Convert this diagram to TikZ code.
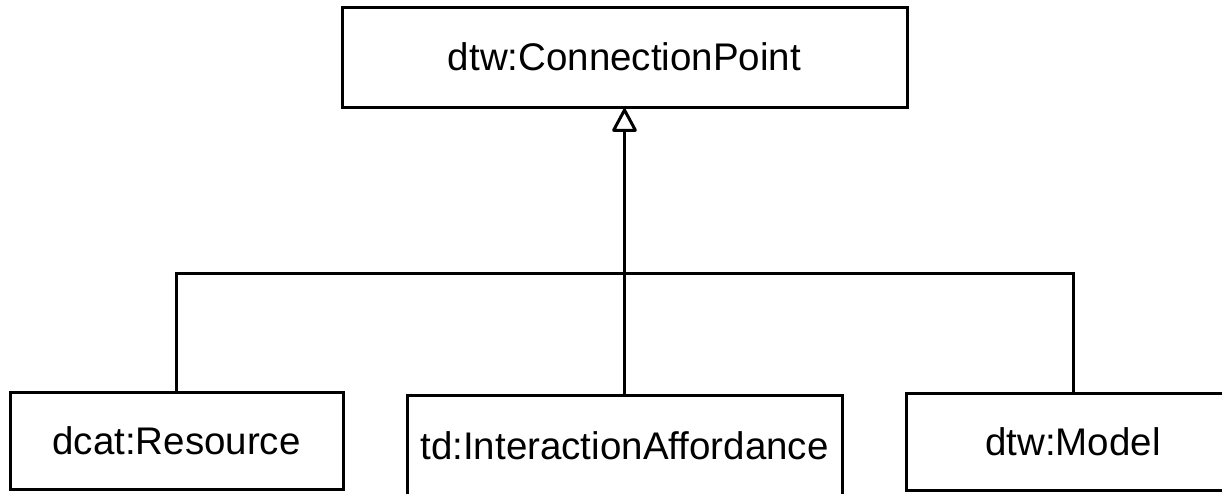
\documentclass[tikz,border=0pt]{standalone}
\usepackage{fontspec}
\setmainfont{Liberation Sans}
\usetikzlibrary{arrows.meta}

\begin{document}
\begin{tikzpicture}[
    x=1pt, y=-1pt,
    cls/.style={
        rectangle,
        draw=black,
        line width=3pt,
        inner sep=0pt,
        minimum height=97pt,
        font=\fontsize{38.5}{46}\selectfont
    },
    inherit/.style={line width=3pt, -{Triangle[length=25pt, width=26pt, fill=white, round]}},
    link/.style={line width=3pt}
]

\useasboundingbox (0,0) rectangle (1222,493);
\clip (0,0) rectangle (1222,493);

\node[cls, minimum width=565pt, minimum height=100pt] (cp) at (624.5,57) {dtw:ConnectionPoint};

\node[cls, minimum width=333pt] (res) at (176.5,440.5) {dcat:Resource};
\node[cls, minimum width=435pt, minimum height=101pt] (ia) at (624.5,445.5) {td:InteractionAffordance};
\node[cls, minimum width=334pt] (mod) at (1073,441.5) {dtw:Model};

\coordinate (bar) at (624.5,273);

\draw[link] (res.north) |- (bar);
\draw[link] (mod.north) |- (bar);
\draw[inherit] (ia.north) -- (cp.south);

\end{tikzpicture}
\end{document}
